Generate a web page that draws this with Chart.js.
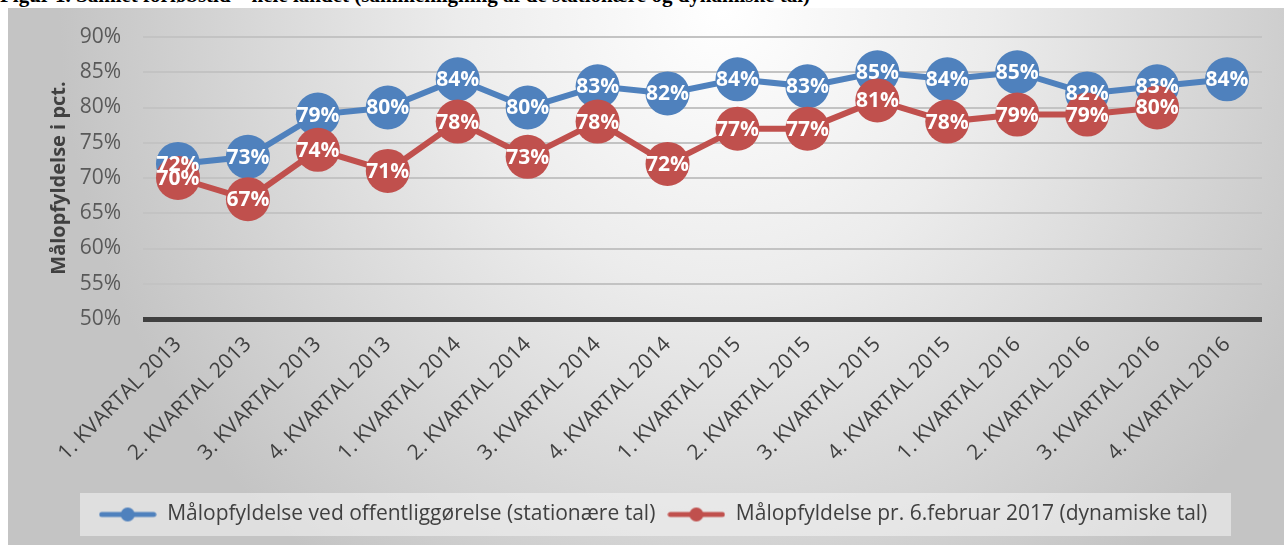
<!DOCTYPE html>
<html>
<head>
<meta charset="utf-8">
<script src="https://cdn.jsdelivr.net/npm/chart.js@4"></script>
<style>
  body { margin: 0; background: #fff; width: 1284px; height: 545px; overflow: hidden; position: relative; }
  #title {
    position: absolute; left: 0; top: -15px; white-space: nowrap;
    font: bold 21px/21px "Liberation Serif", serif; color: #000;
  }
  #frame {
    position: absolute; left: 8px; top: 8px; width: 1276px; height: 537px;
    background: radial-gradient(ellipse 52% 130% at 56% 0%, #ffffff 0%, #ececec 40%, #d8d8d8 70%, #c4c4c4 100%);
  }
</style>
</head>
<body>
<div id="title">Figur 1. Samlet forløbstid – hele landet (sammenligning af de stationære og dynamiske tal)</div>
<div id="frame"><canvas id="chart"></canvas></div>
<script>
const quarters = [
  '1. KVARTAL 2013', '2. KVARTAL 2013', '3. KVARTAL 2013', '4. KVARTAL 2013',
  '1. KVARTAL 2014', '2. KVARTAL 2014', '3. KVARTAL 2014', '4. KVARTAL 2014',
  '1. KVARTAL 2015', '2. KVARTAL 2015', '3. KVARTAL 2015', '4. KVARTAL 2015',
  '1. KVARTAL 2016', '2. KVARTAL 2016', '3. KVARTAL 2016', '4. KVARTAL 2016'
];
const stationary = [72, 73, 79, 80, 84, 80, 83, 82, 84, 83, 85, 84, 85, 82, 83, 84];
const dynamic = [70, 67, 74, 71, 78, 73, 78, 72, 77, 77, 81, 78, 79, 79, 80, null];
const seriesNames = [
  'Målopfyldelse ved offentliggørelse (stationære tal)',
  'Målopfyldelse pr. 6.februar 2017 (dynamiske tal)'
];
const yMin = 50, yMax = 90, yStep = 5;

const blue = '#4F81BD';
const red = '#C0504D';

// legend marker: line with a dot on it
function legendMarker(color) {
  const c = document.createElement('canvas');
  c.width = 58; c.height = 16;
  const g = c.getContext('2d');
  g.strokeStyle = color;
  g.lineWidth = 5;
  g.lineCap = 'round';
  g.beginPath(); g.moveTo(3, 8); g.lineTo(55, 8); g.stroke();
  g.fillStyle = color;
  g.beginPath(); g.arc(29, 8, 7, 0, Math.PI * 2); g.fill();
  return c;
}
const markers = [legendMarker(blue), legendMarker(red)];

// white value labels centred on the markers
const pointLabels = {
  id: 'pointLabels',
  afterDatasetsDraw(chart) {
    const ctx = chart.ctx;
    ctx.save();
    ctx.font = 'bold 21px "Open Sans"';
    ctx.fillStyle = '#fff';
    ctx.textAlign = 'center';
    ctx.textBaseline = 'middle';
    chart.data.datasets.forEach((ds, i) => {
      chart.getDatasetMeta(i).data.forEach((pt, j) => {
        if (ds.data[j] == null) return;
        ctx.fillText(ds.data[j] + '%', pt.x, pt.y + 1);
      });
    });
    ctx.restore();
  }
};

const legendBox = {
  id: 'legendBox',
  beforeDraw(chart) {
    const lg = chart.legend;
    const ctx = chart.ctx;
    ctx.save();
    ctx.fillStyle = 'rgba(245,245,245,0.55)';
    ctx.fillRect(72, lg.top + 1, 1151, lg.bottom - lg.top);
    ctx.restore();
  }
};

new Chart(document.getElementById('chart'), {
  type: 'line',
  data: {
    labels: quarters,
    datasets: [
      { label: seriesNames[0], data: stationary, borderColor: blue, backgroundColor: blue,
        borderWidth: 6, pointRadius: 22, pointHoverRadius: 22, pointBorderWidth: 0, order: 1 },
      { label: seriesNames[1], data: dynamic, borderColor: red, backgroundColor: red,
        borderWidth: 6, pointRadius: 22, pointHoverRadius: 22, pointBorderWidth: 0, order: 0 }
    ]
  },
  options: {
    responsive: true,
    maintainAspectRatio: false,
    animation: false,
    layout: { padding: { left: 35, right: 21, top: 29, bottom: 10 } },
    scales: {
      x: {
        offset: true,
        grid: { display: false },
        border: { display: false },
        ticks: { color: '#404040', font: { family: 'Open Sans', size: 21 },
          minRotation: 45, maxRotation: 45, autoSkip: false, padding: 5 },
        afterFit(scale) { scale.height = 173; }
      },
      y: {
        min: yMin, max: yMax,
        border: { display: false },
        grid: {
          drawTicks: false,
          color: ctx => ctx.tick.value === yMin ? '#404040' : '#c3c3c3',
          lineWidth: ctx => ctx.tick.value === yMin ? 5 : 2
        },
        ticks: { stepSize: yStep, color: '#595959', font: { family: 'Open Sans', size: 21 },
          padding: 22, callback: v => v + '%' },
        title: { display: true, text: 'Målopfyldelse i pct.', color: '#404040',
          font: { family: 'Open Sans', size: 20, weight: 'bold' } },
        afterFit(scale) { scale.width = 100; scale.paddingTop = 0; scale.paddingBottom = 0; }
      }
    },
    plugins: {
      tooltip: { enabled: false },
      legend: {
        position: 'bottom',
        labels: {
          usePointStyle: true, pointStyleWidth: 58, color: '#404040',
          font: { family: 'Open Sans', size: 21 }, padding: 12,
          sort: (a, b) => a.datasetIndex - b.datasetIndex,
          generateLabels(chart) {
            const items = Chart.defaults.plugins.legend.labels.generateLabels(chart);
            items.forEach(it => { it.pointStyle = markers[it.datasetIndex]; });
            return items;
          }
        }
      }
    }
  },
  plugins: [legendBox, pointLabels]
});
</script>
</body>
</html>
